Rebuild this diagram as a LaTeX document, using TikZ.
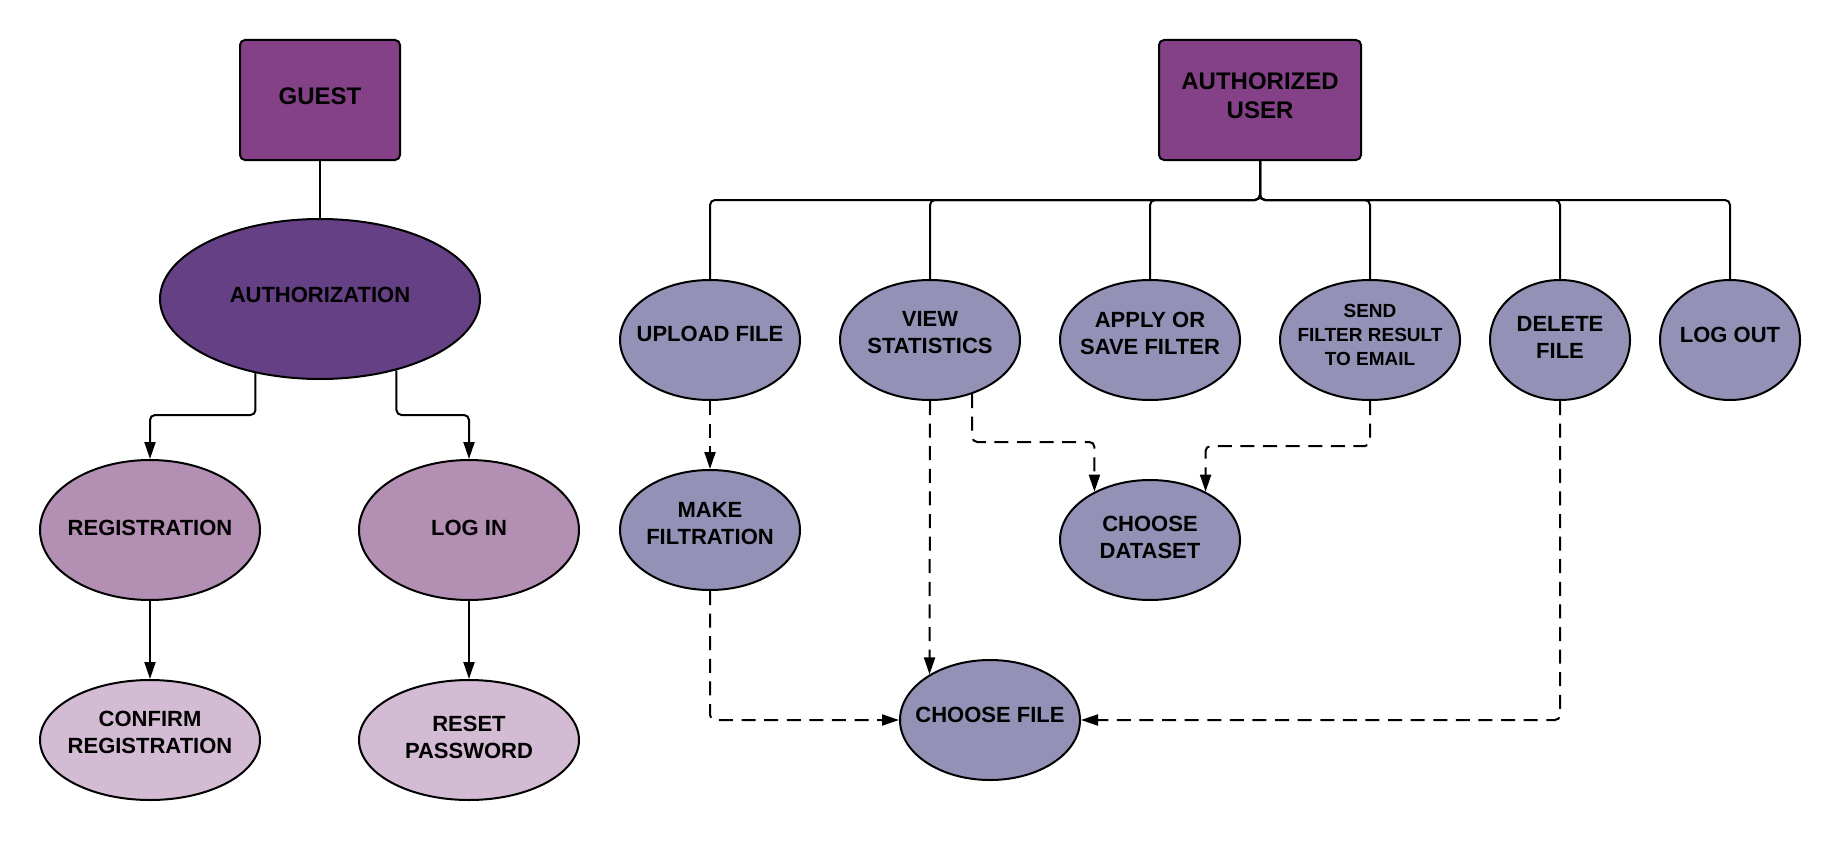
\documentclass[tikz,border=0pt]{standalone}
\usepackage{fontspec}
\setmainfont{Liberation Sans}
\usetikzlibrary{shapes.geometric,arrows.meta,calc}
\definecolor{boxc}{HTML}{844187}
\definecolor{authc}{HTML}{664084}
\definecolor{regc}{HTML}{B38FB4}
\definecolor{confc}{HTML}{D3BBD3}
\definecolor{actc}{HTML}{9491B6}
\begin{document}
\begin{tikzpicture}[x=0.5pt,y=-0.5pt,
  base/.style={draw=black, line width=1pt},
  ubox/.style={base, rectangle, rounded corners=2.5pt, fill=boxc, minimum height=60pt, inner sep=0pt},
  ell/.style={base, ellipse, inner sep=0pt},
  lblbig/.style={inner sep=0pt, align=center, font=\bfseries\fontsize{12}{14.5}\selectfont},
  lbl/.style={inner sep=0pt, align=center, font=\bfseries\fontsize{11}{13.5}\selectfont},
  lblsmall/.style={inner sep=0pt, align=center, font=\bfseries\fontsize{9.5}{12}\selectfont},
  link/.style={line width=1pt, rounded corners=2.5pt},
  conn/.style={line width=1pt, rounded corners=2.5pt, -{Triangle[length=8.5pt,width=5.5pt]}},
  dconn/.style={conn, dash pattern=on 7pt off 4.3pt}
]
\useasboundingbox (0,0) rectangle (1840,840);

% ---- guest side
\node[ubox, minimum width=80pt] (guest) at (320,100) {};
\node[lblbig] (guest-t) at (320,96.5) {GUEST};
\node[ell, fill=authc, minimum width=160pt, minimum height=80pt] (auth) at (320,299) {};
\node[lbl] (auth-t) at (320,294.5) {AUTHORIZATION};
\node[ell, fill=regc, minimum width=110pt, minimum height=70pt] (reg) at (150,530) {};
\node[lbl] (reg-t) at (150,527.7) {REGISTRATION};
\node[ell, fill=regc, minimum width=110pt, minimum height=70pt] (login) at (469,530) {};
\node[lbl] (login-t) at (469,527.7) {LOG IN};
\node[ell, fill=confc, minimum width=110pt, minimum height=60pt] (confirm) at (150,740) {};
\node[lbl] (confirm-t) at (150,732.4) {CONFIRM\\REGISTRATION};
\node[ell, fill=confc, minimum width=110pt, minimum height=60pt] (reset) at (469,740) {};
\node[lbl] (reset-t) at (469,737) {RESET\\PASSWORD};

% ---- authorized user side
\node[ubox, minimum width=101pt] (auser) at (1260,100) {};
\node[lblbig] (auser-t) at (1260,96) {AUTHORIZED\\USER};
\node[ell, fill=actc, minimum width=90pt, minimum height=60pt] (upload) at (710,340) {};
\node[lbl] (upload-t) at (710,334) {UPLOAD FILE};
\node[ell, fill=actc, minimum width=90pt, minimum height=60pt] (viewstat) at (930,340) {};
\node[lbl] (viewstat-t) at (930,332.4) {VIEW\\STATISTICS};
\node[ell, fill=actc, minimum width=90pt, minimum height=60pt] (apply) at (1150,340) {};
\node[lbl] (apply-t) at (1150,333) {APPLY OR\\SAVE FILTER};
\node[ell, fill=actc, minimum width=90pt, minimum height=60pt] (send) at (1370,340) {};
\node[lblsmall] (send-t) at (1370,335) {SEND\\FILTER RESULT\\TO EMAIL};
\node[ell, fill=actc, minimum width=70pt, minimum height=60pt] (delete) at (1560,340) {};
\node[lbl] (delete-t) at (1560,337) {DELETE\\FILE};
\node[ell, fill=actc, minimum width=70pt, minimum height=60pt] (logout) at (1730,340) {};
\node[lbl] (logout-t) at (1730,335.3) {LOG OUT};
\node[ell, fill=actc, minimum width=90pt, minimum height=60pt] (makef) at (710,530) {};
\node[lbl] (makef-t) at (710,524) {MAKE\\FILTRATION};
\node[ell, fill=actc, minimum width=90pt, minimum height=60pt] (dataset) at (1150,540) {};
\node[lbl] (dataset-t) at (1150,537) {CHOOSE\\DATASET};
\node[ell, fill=actc, minimum width=90pt, minimum height=60pt] (cfile) at (990,720) {};
\node[lbl] (cfile-t) at (990,715.3) {CHOOSE FILE};

% ---- connectors, guest side
\draw[link] (guest.south) -- (auth.north);
\draw[conn] (auth.229) -- (auth.229 |- 0,415) -| (reg.north);
\draw[conn] (auth.317) -- (auth.317 |- 0,415) -| (login.north);
\draw[conn] (reg.south) -- (confirm.north);
\draw[conn] (login.south) -- (reset.north);

% ---- connectors, authorized user side
\foreach \n in {upload,viewstat,apply,send,delete,logout}
  \draw[link] (auser.south) -- (auser.south |- 0,200) -| (\n.north);
\draw[dconn] (upload.south) -- (makef.north);
\draw[dconn] (viewstat.south) -- (cfile.143);
\draw[dconn] (viewstat.308) -- (viewstat.308 |- 0,442) -| (dataset.139);
\draw[dconn] (send.south) -- (send.south |- 0,446) -| (dataset.41);
\draw[dconn] (makef.south) |- (cfile.west);
\draw[dconn] (delete.south) |- (cfile.east);
\end{tikzpicture}
\end{document}
